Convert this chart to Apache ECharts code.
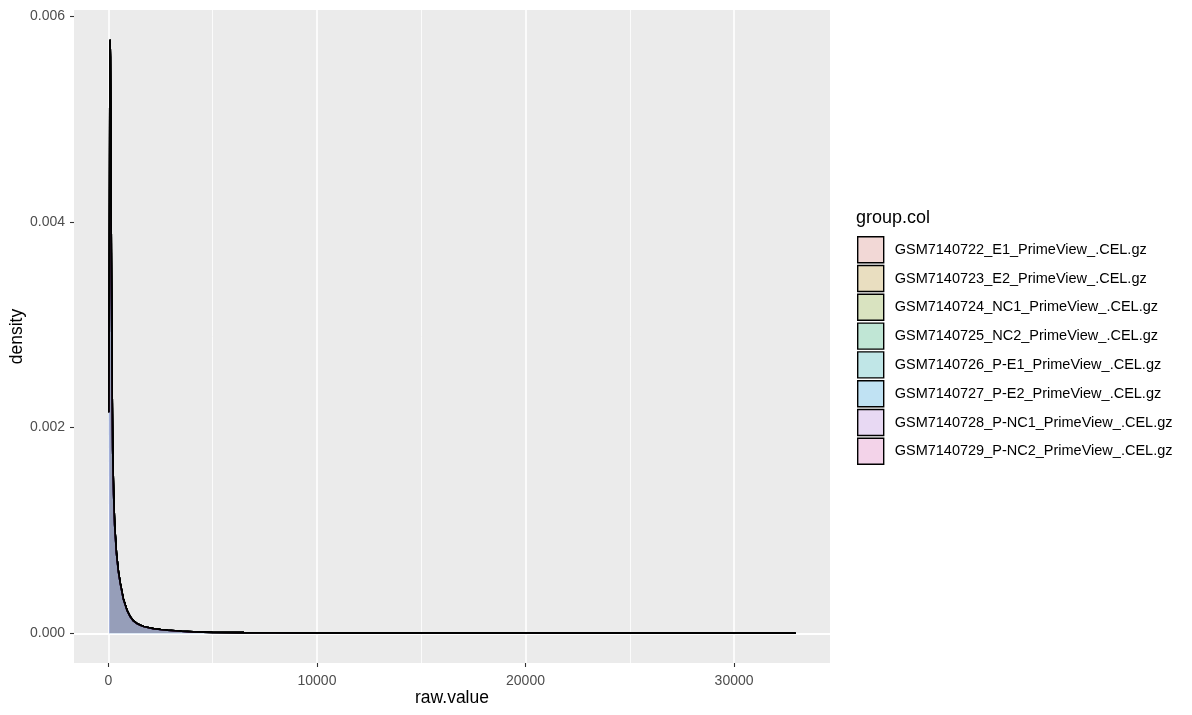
<!DOCTYPE html>
<html>
<head>
<meta charset="utf-8">
<script src="https://cdn.jsdelivr.net/npm/echarts@6/dist/echarts.min.js"></script>
<style>
html,body{margin:0;padding:0;background:#fff;}
#chart{width:1192px;height:715px;}
</style>
</head>
<body>
<div id="chart"></div>
<script>
// ---- data ----
const sampleNames = [
  'GSM7140722_E1_PrimeView_.CEL.gz',
  'GSM7140723_E2_PrimeView_.CEL.gz',
  'GSM7140724_NC1_PrimeView_.CEL.gz',
  'GSM7140725_NC2_PrimeView_.CEL.gz',
  'GSM7140726_P-E1_PrimeView_.CEL.gz',
  'GSM7140727_P-E2_PrimeView_.CEL.gz',
  'GSM7140728_P-NC1_PrimeView_.CEL.gz',
  'GSM7140729_P-NC2_PrimeView_.CEL.gz'
];
// all eight density curves overlap within a pixel in the picture
const rawValue = [20, 35, 50, 65, 80, 95, 115, 140, 170, 205, 250, 300, 385, 480, 575, 720, 900, 1050, 1200, 1370, 1535, 1700, 1850, 2000, 2160, 2500, 2830, 3200, 3500, 4080, 5000, 6500, 8000, 10000, 12500, 15000, 20000, 25000, 30000, 32950];
const density  = [0.00215, 0.0029, 0.0040, 0.0051, 0.00577, 0.0056, 0.0048, 0.0037, 0.0026, 0.00178, 0.00135, 0.00105, 0.00078, 0.0006, 0.00048, 0.00033, 0.00022, 0.00016, 0.00012, 0.000095, 0.000078, 0.000066, 0.000058, 0.000051, 0.000045, 0.000036, 0.00003, 0.000024, 0.00002, 0.000014, 0.000009, 0.000006, 0.000005, 0.000004, 0.000003, 0.0000025, 0.000002, 0.0000015, 0.000001, 0.0000005];
const xTicks = [0, 10000, 20000, 30000];
const xMinor = [5000, 15000, 25000];
const yTicks = [0, 0.002, 0.004, 0.006];
const yMinor = [0.001, 0.003, 0.005];

// ---- styles ----
const hue = ['#F8766D', '#CD9600', '#7CAE00', '#00BE67', '#00BFC4', '#00A9FF', '#C77CFF', '#FF61CC'];
const alpha = 0.2;
function hex2rgb(h){return [1,3,5].map(i=>parseInt(h.substr(i,2),16));}
function blend(h, bg){const c=hex2rgb(h);return 'rgb('+c.map(v=>Math.round(bg*(1-alpha)+v*alpha)).join(',')+')';}
function rgba(h){const c=hex2rgb(h);return 'rgba('+c.join(',')+','+alpha+')';}

const curve = rawValue.map((x,i)=>[x, density[i]]);
const font = 'Liberation Sans, Arial, Helvetica, sans-serif';

const gridSeries = {
  type: 'line', data: [], silent: true, z: 1, animation: false,
  markLine: {
    silent: true, symbol: ['none','none'], label: {show:false}, animation: false,
    data: [
      ...xMinor.map(v=>({xAxis:v, lineStyle:{color:'#fff', width:0.8, type:'solid'}})),
      ...yMinor.map(v=>({yAxis:v, lineStyle:{color:'#fff', width:0.8, type:'solid'}})),
      ...xTicks.map(v=>({xAxis:v, lineStyle:{color:'#fff', width:1.6, type:'solid'}})),
      ...yTicks.map(v=>({yAxis:v, lineStyle:{color:'#fff', width:1.6, type:'solid'}}))
    ]
  }
};

const densitySeries = sampleNames.map((name,i)=>({
  name: name, type: 'line', data: curve, z: 2 + i,
  showSymbol: false, symbol: 'none', smooth: false,
  lineStyle: {color: '#000', width: 1.6},
  itemStyle: {color: blend(hue[i], 240)},
  areaStyle: {color: rgba(hue[i]), opacity: 1, origin: 'auto'},
  animation: false
}));

const chart = echarts.init(document.getElementById('chart'));
chart.setOption({
  backgroundColor: '#fff',
  animation: false,
  title: {
    text: 'group.col', left: 856, top: 209, padding: 0,
    textStyle: {fontFamily: font, fontSize: 18, fontWeight: 'normal', color: '#000'}
  },
  grid: {left: 74, right: 362, top: 10, bottom: 52, show: true, backgroundColor: '#EBEBEB', borderWidth: 0, containLabel: false, outerBoundsMode: 'none'},
  xAxis: {
    type: 'value', min: -1650, max: 34600,
    name: 'raw.value', nameLocation: 'middle', nameGap: 26, nameMoveOverlap: false,
    nameTextStyle: {fontFamily: font, fontSize: 17.5, color: '#000'},
    axisLine: {show: false, onZero: false},
    axisTick: {show: true, length: 4, lineStyle: {color: '#333', width: 1.1}, customValues: xTicks},
    axisLabel: {customValues: xTicks, margin: 11, fontFamily: font, fontSize: 14, color: '#4D4D4D', formatter: v=>String(v)},
    splitLine: {show: false}
  },
  yAxis: {
    type: 'value', min: -0.000289, max: 0.00606,
    name: 'density', nameLocation: 'middle', nameGap: 48, nameMoveOverlap: false,
    nameTextStyle: {fontFamily: font, fontSize: 17.5, color: '#000'},
    axisLine: {show: false, onZero: false},
    axisTick: {show: true, length: 4, lineStyle: {color: '#333', width: 1.1}, customValues: yTicks},
    axisLabel: {customValues: yTicks, margin: 9, fontFamily: font, fontSize: 14, color: '#4D4D4D', formatter: v=>v.toFixed(3)},
    splitLine: {show: false}
  },
  legend: {
    orient: 'vertical', left: 857, top: 236, padding: 0,
    icon: 'rect', itemWidth: 26, itemHeight: 26, itemGap: 1.4,
    selectedMode: false,
    textStyle: {fontFamily: font, fontSize: 14.5, color: '#000', padding: [0,0,0,6]},
    data: sampleNames.map((n,i)=>({name: n, itemStyle: {color: blend(hue[i], 240), borderColor: '#000', borderWidth: 1.4}}))
  },
  series: [gridSeries, ...densitySeries]
});
</script>
</body>
</html>
